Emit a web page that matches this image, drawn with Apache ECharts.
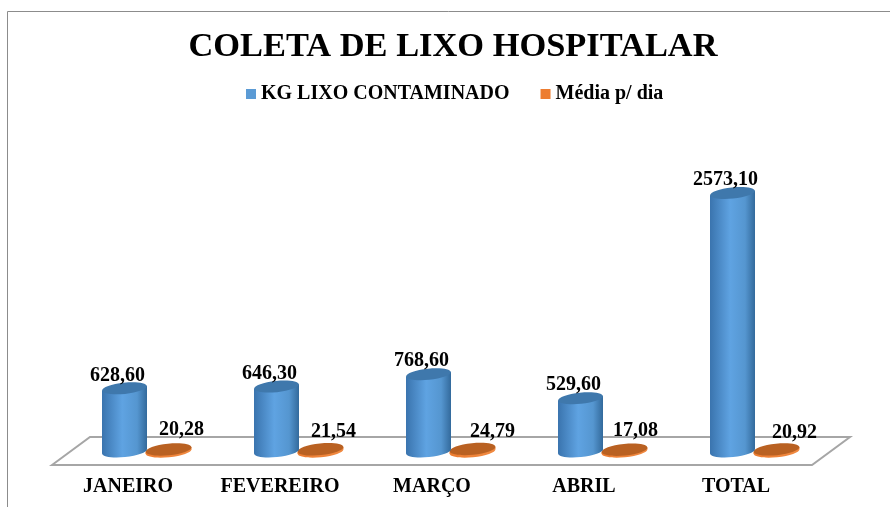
<!DOCTYPE html>
<html><head><meta charset="utf-8">
<style>html,body{margin:0;padding:0;background:#fff}#c{width:890px;height:507px}</style>
<script src="https://cdn.jsdelivr.net/npm/echarts@6/dist/echarts.min.js"></script>
</head><body><div id="c"></div>
<script>
const categories = ['JANEIRO','FEVEREIRO','MARÇO','ABRIL','TOTAL'];
const kgLixo = [628.60,646.30,768.60,529.60,2573.10];
const mediaDia = [20.28,21.54,24.79,17.08,20.92];

const FONT = '"Liberation Serif","Times New Roman",serif';
const fmt = v => v.toFixed(2).replace('.',',');
const orangeLabelDx = [13,13,20,11,18];
const orangeLabelDy = [-20,-18,-17,-19,-17];

const blueStyle = {
  side:[{offset:0,color:'#3a74ae'},{offset:.45,color:'#5fa3e2'},{offset:.78,color:'#5596d0'},{offset:1,color:'#336a9c'}],
  top:'#3f78ac', ry:5.6, rx:22.5, dx:-3.5, labelSize:20
};
const orangeStyle = {
  side:[{offset:0,color:'#ed7d31'},{offset:1,color:'#f08a42'}],
  top:'#b96122', ry:5.8, rx:23, dx:40.5, labelSize:20
};
const DEPTH = 13.5;
const tilt = 0.1;

function cylinder(style, isBlue){
  return function(params, api){
    const i = api.value(0), v = api.value(1);
    const pTop = api.coord([i, v]), pBase = api.coord([i, 0]);
    const cx = pTop[0] + style.dx;
    const yT = pTop[1] - DEPTH, yB = pBase[1] - DEPTH;
    const d = style.rx * Math.sin(tilt);
    const grad = {type:'linear',x:0,y:0,x2:1,y2:0,colorStops:style.side};
    const lx = isBlue ? -7 : orangeLabelDx[i], ly = isBlue ? -13 : orangeLabelDy[i];
    const ell = (cy, fill) => ({type:'ellipse',
      shape:{cx:cx,cy:cy,rx:style.rx,ry:style.ry},
      originX:cx,originY:cy,rotation:tilt,style:{fill:fill}});
    return {type:'group',children:[
      ell(yB, grad),
      {type:'polygon',shape:{points:[[cx-style.rx,yT+d],[cx+style.rx,yT-d],[cx+style.rx,yB-d],[cx-style.rx,yB+d]]},style:{fill:grad}},
      ell(yT, style.top),
      {type:'text',x:cx+lx,y:yT+ly,style:{text:fmt(v),fill:'#000',font:'bold '+style.labelSize+'px '+FONT,align:'center',verticalAlign:'middle'}}
    ]};
  };
}
function floor(params){
  const r = params.coordSys, b = r.y + r.height, L = r.x, R = r.x + r.width;
  return {type:'polygon',silent:true,z2:0,
    shape:{points:[[L,b],[L+38,b-28],[R+38,b-28],[R,b]]},
    style:{fill:'#fff',stroke:'#a6a6a6',lineWidth:2}};
}
const chart = echarts.init(document.getElementById('c'),null,{renderer:'canvas'});
chart.setOption({
  animation:false,
  backgroundColor:'#fff',
  graphic:[{type:'polyline',silent:true,shape:{points:[[7.5,507],[7.5,11.5],[890,11.5]]},style:{fill:'none',stroke:'#8c8c8c',lineWidth:1}}],
  title:{text:'COLETA DE LIXO HOSPITALAR',left:448,top:25,textAlign:'center',
    textStyle:{fontFamily:FONT,fontWeight:'bold',fontSize:34.4,color:'#000'}},
  legend:{data:['KG LIXO CONTAMINADO','Média p/ dia'],left:241,top:79,itemWidth:10,itemHeight:10,itemGap:31,icon:'rect',
    textStyle:{fontFamily:FONT,fontWeight:'bold',fontSize:20,color:'#000'}},
  grid:{left:52,width:760,top:163.6,bottom:42},
  xAxis:{type:'category',data:categories,axisLine:{show:false},axisTick:{show:false},
    axisLabel:{margin:12,fontFamily:FONT,fontWeight:'bold',fontSize:20,color:'#000',interval:0}},
  yAxis:{type:'value',min:0,max:3000,show:false,splitLine:{show:false}},
  series:[
    {type:'custom',name:'floor',silent:true,z:1,renderItem:floor,data:[[0,0]],encode:{x:0,y:1}},
    {type:'custom',name:'KG LIXO CONTAMINADO',z:3,renderItem:cylinder(blueStyle,true),itemStyle:{color:'#5b9bd5'},data:kgLixo.map((v,i)=>[i,v]),encode:{x:0,y:1}},
    {type:'custom',name:'Média p/ dia',z:2,renderItem:cylinder(orangeStyle,false),itemStyle:{color:'#ed7d31'},data:mediaDia.map((v,i)=>[i,v]),encode:{x:0,y:1}}
  ]
});
</script></body></html>
